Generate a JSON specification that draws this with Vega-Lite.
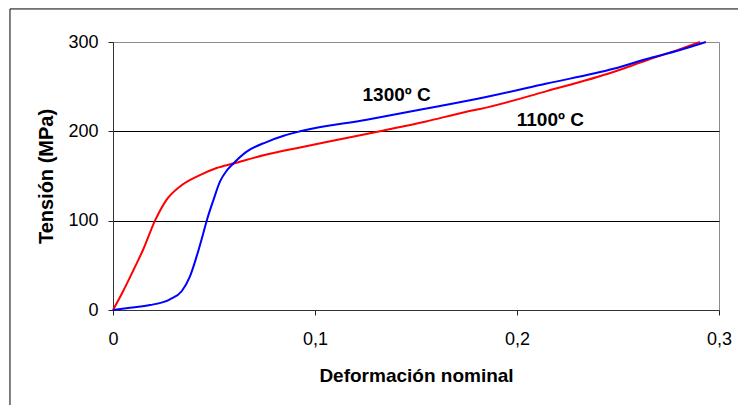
{
  "$schema": "https://vega.github.io/schema/vega-lite/v6.json",
  "width": 606,
  "height": 268,
  "autosize": {"type": "none"},
  "padding": {"left": 113, "top": 42, "right": 19, "bottom": 95},
  "background": "white",
  "config": {
    "font": "Liberation Sans",
    "view": {"stroke": "#8c8c8c", "strokeWidth": 1},
    "axis": {
      "labelFont": "Liberation Sans",
      "titleFont": "Liberation Sans",
      "labelColor": "black",
      "titleColor": "black",
      "tickColor": "#222",
      "domainColor": "#333",
      "tickSize": 5
    }
  },
  "datasets": {
    "one": [{"k": 1}],
    "curves": [
      {"def": 0, "ten": 0, "serie": "1100º C"},
      {"def": 0.005, "ten": 21, "serie": "1100º C"},
      {"def": 0.0102, "ten": 45, "serie": "1100º C"},
      {"def": 0.015, "ten": 68, "serie": "1100º C"},
      {"def": 0.0208, "ten": 100, "serie": "1100º C"},
      {"def": 0.0264, "ten": 123, "serie": "1100º C"},
      {"def": 0.033, "ten": 138, "serie": "1100º C"},
      {"def": 0.043, "ten": 151, "serie": "1100º C"},
      {"def": 0.0513, "ten": 159, "serie": "1100º C"},
      {"def": 0.0596, "ten": 164, "serie": "1100º C"},
      {"def": 0.076, "ten": 174, "serie": "1100º C"},
      {"def": 0.0926, "ten": 182, "serie": "1100º C"},
      {"def": 0.11, "ten": 190, "serie": "1100º C"},
      {"def": 0.134, "ten": 201, "serie": "1100º C"},
      {"def": 0.155, "ten": 211, "serie": "1100º C"},
      {"def": 0.175, "ten": 222, "serie": "1100º C"},
      {"def": 0.1817, "ten": 225, "serie": "1100º C"},
      {"def": 0.2147, "ten": 245, "serie": "1100º C"},
      {"def": 0.2477, "ten": 266.5, "serie": "1100º C"},
      {"def": 0.2642, "ten": 279.5, "serie": "1100º C"},
      {"def": 0.2807, "ten": 292, "serie": "1100º C"},
      {"def": 0.2906, "ten": 300, "serie": "1100º C"},
      {"def": 0, "ten": 0, "serie": "1300º C"},
      {"def": 0.0084, "ten": 2.5, "serie": "1300º C"},
      {"def": 0.0183, "ten": 5.5, "serie": "1300º C"},
      {"def": 0.0282, "ten": 12, "serie": "1300º C"},
      {"def": 0.034, "ten": 21, "serie": "1300º C"},
      {"def": 0.038, "ten": 37, "serie": "1300º C"},
      {"def": 0.0414, "ten": 60, "serie": "1300º C"},
      {"def": 0.0447, "ten": 86, "serie": "1300º C"},
      {"def": 0.0464, "ten": 100, "serie": "1300º C"},
      {"def": 0.0497, "ten": 123, "serie": "1300º C"},
      {"def": 0.053, "ten": 144, "serie": "1300º C"},
      {"def": 0.0563, "ten": 156, "serie": "1300º C"},
      {"def": 0.0596, "ten": 164, "serie": "1300º C"},
      {"def": 0.066, "ten": 177, "serie": "1300º C"},
      {"def": 0.076, "ten": 188, "serie": "1300º C"},
      {"def": 0.0845, "ten": 195, "serie": "1300º C"},
      {"def": 0.0926, "ten": 200, "serie": "1300º C"},
      {"def": 0.1256, "ten": 213, "serie": "1300º C"},
      {"def": 0.1586, "ten": 227, "serie": "1300º C"},
      {"def": 0.1817, "ten": 237, "serie": "1300º C"},
      {"def": 0.2147, "ten": 253.5, "serie": "1300º C"},
      {"def": 0.2477, "ten": 270, "serie": "1300º C"},
      {"def": 0.2642, "ten": 281, "serie": "1300º C"},
      {"def": 0.2807, "ten": 291, "serie": "1300º C"},
      {"def": 0.2935, "ten": 300, "serie": "1300º C"}
    ]
  },
  "layer": [
    {
      "data": {"name": "one"},
      "mark": {"type": "rect", "fill": null, "stroke": "black", "strokeWidth": 1, "clip": false},
      "encoding": {
        "x": {"datum": -0.051, "type": "quantitative", "scale": {"domain": [0, 0.3]}},
        "x2": {"datum": 0.33},
        "y": {"datum": 337, "type": "quantitative"},
        "y2": {"datum": -130}
      }
    },
    {
      "data": {"name": "curves"},
      "mark": {"type": "line", "interpolate": "monotone", "strokeWidth": 2},
      "encoding": {
        "x": {
          "field": "def",
          "type": "quantitative",
          "scale": {"domain": [0, 0.3], "nice": false, "zero": true},
          "axis": {
            "title": "Deformación nominal",
            "values": [0, 0.1, 0.2, 0.3],
            "labelExpr": "replace(format(datum.value, '.1~f'), '.', ',')",
            "labelFontSize": 18,
            "labelPadding": 15,
            "titleFontSize": 19,
            "titleFontWeight": "bold",
            "titlePadding": 18,
            "grid": false,
            "labelFlush": false,
            "labelOverlap": false
          }
        },
        "y": {
          "field": "ten",
          "type": "quantitative",
          "scale": {"domain": [0, 300], "nice": false},
          "axis": {
            "title": "Tensión (MPa)",
            "values": [0, 100, 200, 300],
            "labelFontSize": 18,
            "labelPadding": 10,
            "titleFontSize": 20,
            "titleFontWeight": "bold",
            "titlePadding": 11,
            "grid": true,
            "gridColor": {"condition": {"test": "datum.value === 0 || datum.value === 300", "value": "transparent"}, "value": "black"},
            "gridOpacity": 1,
            "gridWidth": 1,
            "labelFlush": false
          }
        },
        "color": {
          "field": "serie",
          "type": "nominal",
          "scale": {"domain": ["1100º C", "1300º C"], "range": ["#ff0000", "#0000ff"]},
          "legend": null
        }
      }
    },
    {
      "data": {"name": "one"},
      "mark": {"type": "text", "fontSize": 19, "fontWeight": "bold", "align": "center", "baseline": "alphabetic", "color": "black"},
      "encoding": {
        "x": {"datum": 0.1404, "type": "quantitative"},
        "y": {"datum": 233.5, "type": "quantitative"},
        "text": {"value": "1300º C"}
      }
    },
    {
      "data": {"name": "one"},
      "mark": {"type": "text", "fontSize": 19, "fontWeight": "bold", "align": "center", "baseline": "alphabetic", "color": "black"},
      "encoding": {
        "x": {"datum": 0.2165, "type": "quantitative"},
        "y": {"datum": 206, "type": "quantitative"},
        "text": {"value": "1100º C"}
      }
    }
  ]
}
